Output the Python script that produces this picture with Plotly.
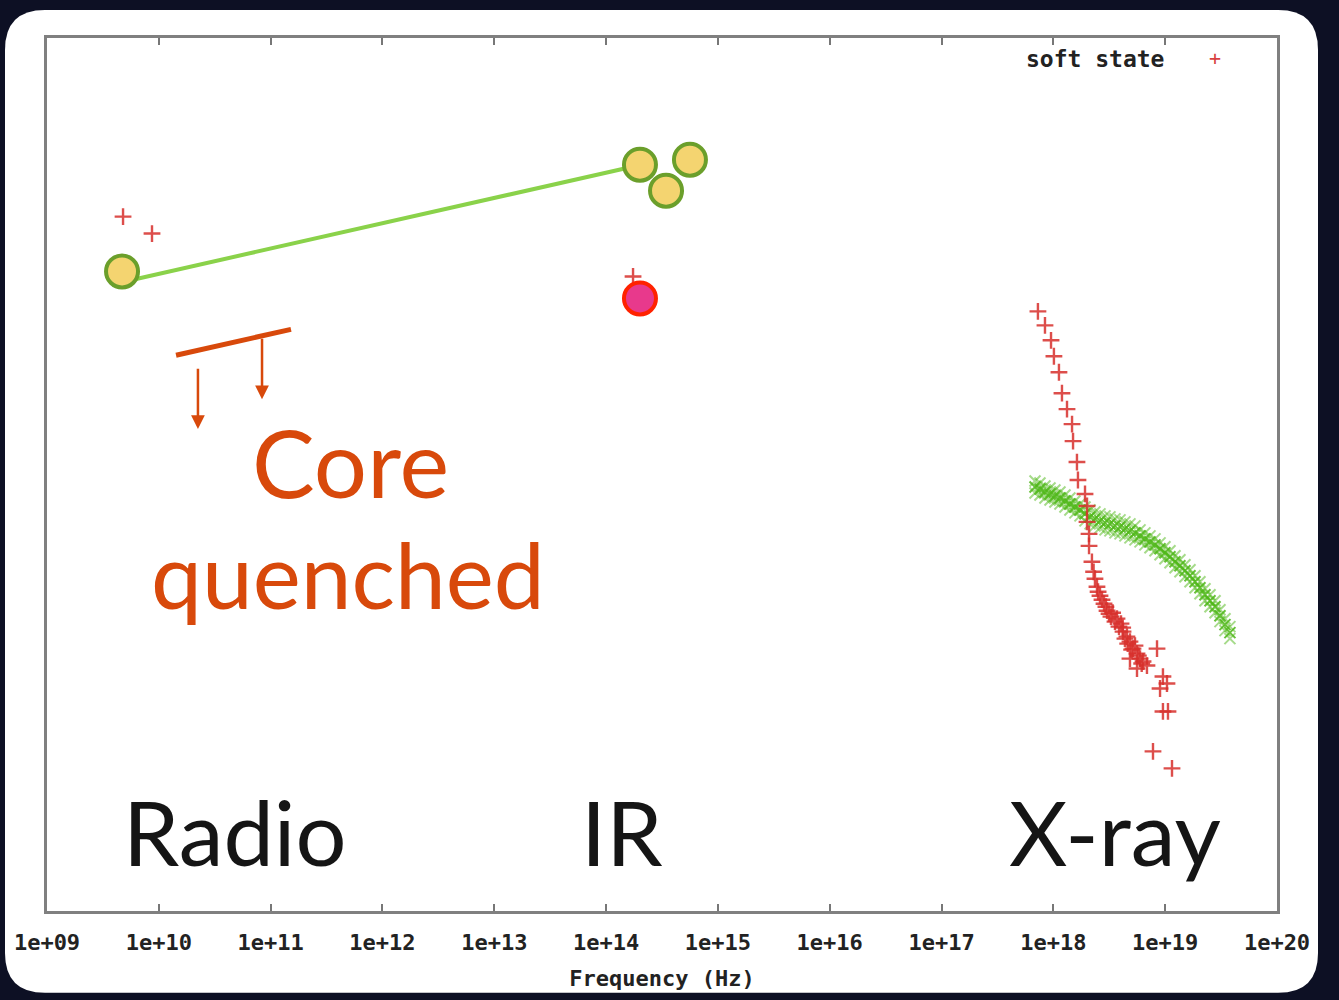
import plotly.graph_objects as go

# ---------------- data (log10 frequency, arbitrary log flux units) ----------------
tick_logf = [9, 10, 11, 12, 13, 14, 15, 16, 17, 18, 19, 20]
tick_text = ["1e+09", "1e+10", "1e+11", "1e+12", "1e+13", "1e+14",
             "1e+15", "1e+16", "1e+17", "1e+18", "1e+19", "1e+20"]

# soft state (red plus markers)
soft_logf = [9.680, 9.939, 14.241,
             17.862, 17.925, 17.979, 18.005, 18.050, 18.077, 18.122, 18.167,
             18.176, 18.211, 18.220, 18.283, 18.301, 18.301, 18.319, 18.319,
             18.345, 18.372, 18.417, 18.453, 18.480, 18.515, 18.551, 18.587,
             18.623, 18.658, 18.685, 18.712, 18.748, 18.775, 18.685, 18.748,
             18.837, 18.927, 18.980, 18.954, 19.016, 18.980, 19.025, 18.891,
             19.061, 18.390, 18.435, 18.498, 18.569, 18.605, 18.640, 18.730,
             18.802, 18.700, 18.360, 18.400, 18.470, 18.530, 18.620, 18.665,
             18.760, 18.790]
soft_y = [6.96, 6.79, 6.36,
          6.01, 5.87, 5.72, 5.56, 5.40, 5.19, 5.03, 4.88,
          4.71, 4.50, 4.32, 4.18, 4.06, 3.90, 3.78, 3.66,
          3.50, 3.33, 3.16, 3.08, 3.01, 2.95, 2.90, 2.85,
          2.80, 2.75, 2.70, 2.63, 2.58, 2.53, 2.53, 2.43,
          2.46, 2.63, 2.35, 2.23, 2.28, 2.00, 2.00, 1.60,
          1.43, 3.25, 3.12, 2.98, 2.93, 2.88, 2.73, 2.66,
          2.50, 2.62, 3.40, 3.20, 3.05, 2.99, 2.84, 2.68,
          2.56, 2.48]

# hard state (green x markers)
hard_logf = [17.836, 17.880, 17.925, 17.970, 18.014, 18.059, 18.104, 18.148,
             18.193, 18.238, 18.283, 18.328, 18.372, 18.417, 18.462, 18.506,
             18.551, 18.596, 18.640, 18.685, 18.730, 18.775, 18.819, 18.864,
             18.909, 18.954, 18.998, 19.043, 19.088, 19.132, 19.177, 19.222,
             19.267, 19.311, 19.356, 19.401, 19.446, 19.490, 19.535, 19.579]
hard_y_upper = [4.31, 4.29, 4.26, 4.24, 4.22, 4.20, 4.17, 4.14,
                4.11, 4.08, 4.05, 4.02, 4.00, 3.98, 3.96, 3.95,
                3.93, 3.92, 3.90, 3.88, 3.86, 3.82, 3.79, 3.76,
                3.73, 3.69, 3.65, 3.61, 3.56, 3.52, 3.47, 3.42,
                3.36, 3.30, 3.23, 3.17, 3.11, 3.02, 2.93, 2.85]
hard_y_mid = [4.25, 4.23, 4.20, 4.18, 4.16, 4.14, 4.11, 4.08,
              4.05, 4.02, 3.98, 3.95, 3.93, 3.91, 3.89, 3.88,
              3.86, 3.85, 3.83, 3.81, 3.79, 3.76, 3.73, 3.70,
              3.67, 3.63, 3.59, 3.55, 3.50, 3.46, 3.41, 3.36,
              3.30, 3.24, 3.17, 3.11, 3.05, 2.96, 2.87, 2.79]
hard_y_lower = [4.19, 4.17, 4.14, 4.12, 4.10, 4.08, 4.05, 4.02,
                3.99, 3.96, 3.91, 3.88, 3.86, 3.84, 3.82, 3.81,
                3.79, 3.78, 3.76, 3.74, 3.72, 3.70, 3.67, 3.64,
                3.61, 3.57, 3.53, 3.49, 3.44, 3.40, 3.35, 3.30,
                3.24, 3.18, 3.11, 3.05, 2.99, 2.90, 2.81, 2.73]

# jet (yellow circles) and line
jet_logf = [9.671, 14.303, 14.750, 14.536]
jet_y = [6.41, 7.48, 7.53, 7.22]
jet_line_logf = [9.581, 14.196]
jet_line_y = [6.28, 7.45]

# quenched IR point (pink)
ir_logf = [14.303]
ir_y = [6.14]

# core-quenched upper-limit bar and arrows
core_line_logf = [10.154, 11.182]
core_line_y = [5.57, 5.83]
arrow_logf = [10.350, 10.923]
arrow_tail_y = [5.45, 5.75]
arrow_tip_y = [4.83, 5.13]

labels = ["Radio", "IR", "X-ray"]
labels_logf = [10.681, 14.142, 18.551]
labels_y = [0.80, 0.80, 0.80]

# ---------------- figure ----------------
W, H = 1339, 1000
L, R, T, B = 47, 62, 38, 87
pw, ph = W - L - R, H - T - B

def px2paper_x(p):
    return (p - L) / pw

def py2paper_y(p):
    return (H - B - p) / ph

def f(v):
    return 10.0 ** v

fig = go.Figure()

ORANGE = "#d8490b"

fig.add_trace(go.Scatter(
    x=[f(v) for v in jet_line_logf], y=jet_line_y, mode="lines",
    line=dict(color="#8ad24a", width=4), showlegend=False, hoverinfo="skip"))

for ys, op in [(hard_y_upper, 0.5), (hard_y_lower, 0.5), (hard_y_mid, 0.85)]:
    fig.add_trace(go.Scatter(
        x=[f(v) for v in hard_logf], y=ys, mode="markers",
        marker=dict(symbol="x-thin", size=11, opacity=op,
                    line=dict(color="#4fb818", width=2)),
        showlegend=False, hoverinfo="skip"))

fig.add_trace(go.Scatter(
    x=[f(v) for v in soft_logf], y=soft_y, mode="markers",
    marker=dict(symbol="cross-thin", size=12, opacity=0.85,
                line=dict(color="#d8302c", width=2.4)),
    name="soft state", showlegend=False, hoverinfo="skip"))

fig.add_trace(go.Scatter(
    x=[f(v) for v in jet_logf], y=jet_y, mode="markers",
    marker=dict(symbol="circle", size=32, color="#f4d470",
                line=dict(color="#6b9f2b", width=4)),
    showlegend=False, hoverinfo="skip"))

fig.add_trace(go.Scatter(
    x=[f(v) for v in ir_logf], y=ir_y, mode="markers",
    marker=dict(symbol="circle", size=32, color="#e8398c",
                line=dict(color="#ff2200", width=4)),
    showlegend=False, hoverinfo="skip"))

fig.add_trace(go.Scatter(
    x=[f(v) for v in core_line_logf], y=core_line_y, mode="lines",
    line=dict(color=ORANGE, width=5), showlegend=False, hoverinfo="skip"))

annotations = []
for lx, ty, hy in zip(arrow_logf, arrow_tail_y, arrow_tip_y):
    annotations.append(dict(
        x=lx, y=hy, ax=lx, ay=ty, xref="x", yref="y", axref="x", ayref="y",
        showarrow=True, arrowhead=2, arrowsize=1.1, arrowwidth=2.5,
        arrowcolor=ORANGE, text=""))

for t, lx, ly in zip(labels, labels_logf, labels_y):
    annotations.append(dict(
        x=lx, y=ly, xref="x", yref="y", text=t, showarrow=False,
        font=dict(family="Lato", size=90, color="#151515"),
        xanchor="center", yanchor="middle"))

annotations.append(dict(x=11.710, y=4.51, xref="x", yref="y", text="Core",
                        showarrow=False, xanchor="center", yanchor="middle",
                        font=dict(family="Lato", size=94, color=ORANGE)))
annotations.append(dict(x=11.692, y=3.38, xref="x", yref="y", text="quenched",
                        showarrow=False, xanchor="center", yanchor="middle",
                        font=dict(family="Lato", size=91, color=ORANGE)))

# legend (gnuplot style: text then sample on the right)
annotations.append(dict(x=px2paper_x(1166), y=py2paper_y(59), xref="paper", yref="paper",
                        text="soft state", showarrow=False, xanchor="right",
                        yanchor="middle",
                        font=dict(family="DejaVu Sans Mono", size=23,
                                  color="#222222", weight="bold")))
annotations.append(dict(x=px2paper_x(1215), y=py2paper_y(58), xref="paper", yref="paper",
                        text="+", showarrow=False, xanchor="center",
                        yanchor="middle",
                        font=dict(family="DejaVu Sans Mono", size=20,
                                  color="#d84040")))

# rounded white panel
x0, x1 = px2paper_x(5), px2paper_x(1318)
y0, y1 = py2paper_y(995), py2paper_y(10)
rx, ry = 40 / pw, 40 / ph
path = (f"M {x0+rx},{y1} L {x1-rx},{y1} Q {x1},{y1} {x1},{y1-ry} "
        f"L {x1},{y0+ry} Q {x1},{y0} {x1-rx},{y0} "
        f"L {x0+rx},{y0} Q {x0},{y0} {x0},{y0+ry} "
        f"L {x0},{y1-ry} Q {x0},{y1} {x0+rx},{y1} Z")

fig.update_layout(
    width=W, height=H,
    margin=dict(l=L, r=R, t=T, b=B),
    paper_bgcolor="#0d1024",
    plot_bgcolor="white",
    showlegend=False,
    annotations=annotations,
    shapes=[dict(type="path", path=path, xref="paper", yref="paper",
                 fillcolor="white", line=dict(width=0), layer="below")],
)

fig.update_xaxes(
    type="log", range=[9, 20],
    tickvals=[f(v) for v in tick_logf], ticktext=tick_text,
    ticks="inside", ticklen=7, tickwidth=1.5, tickcolor="#777777",
    showline=True, linecolor="#808080", linewidth=3, mirror="ticks",
    showgrid=False, zeroline=False, ticklabelstandoff=10,
    tickfont=dict(family="DejaVu Sans Mono", size=22, color="#222222", weight="bold"),
    title=dict(text="Frequency (Hz)", standoff=17,
               font=dict(family="DejaVu Sans Mono", size=22, color="#222222", weight="bold")),
)
fig.update_yaxes(
    range=[0, 8.75], showticklabels=False, ticks="",
    showline=True, linecolor="#808080", linewidth=3, mirror=True,
    showgrid=False, zeroline=False,
)

fig.write_html("out.html")
